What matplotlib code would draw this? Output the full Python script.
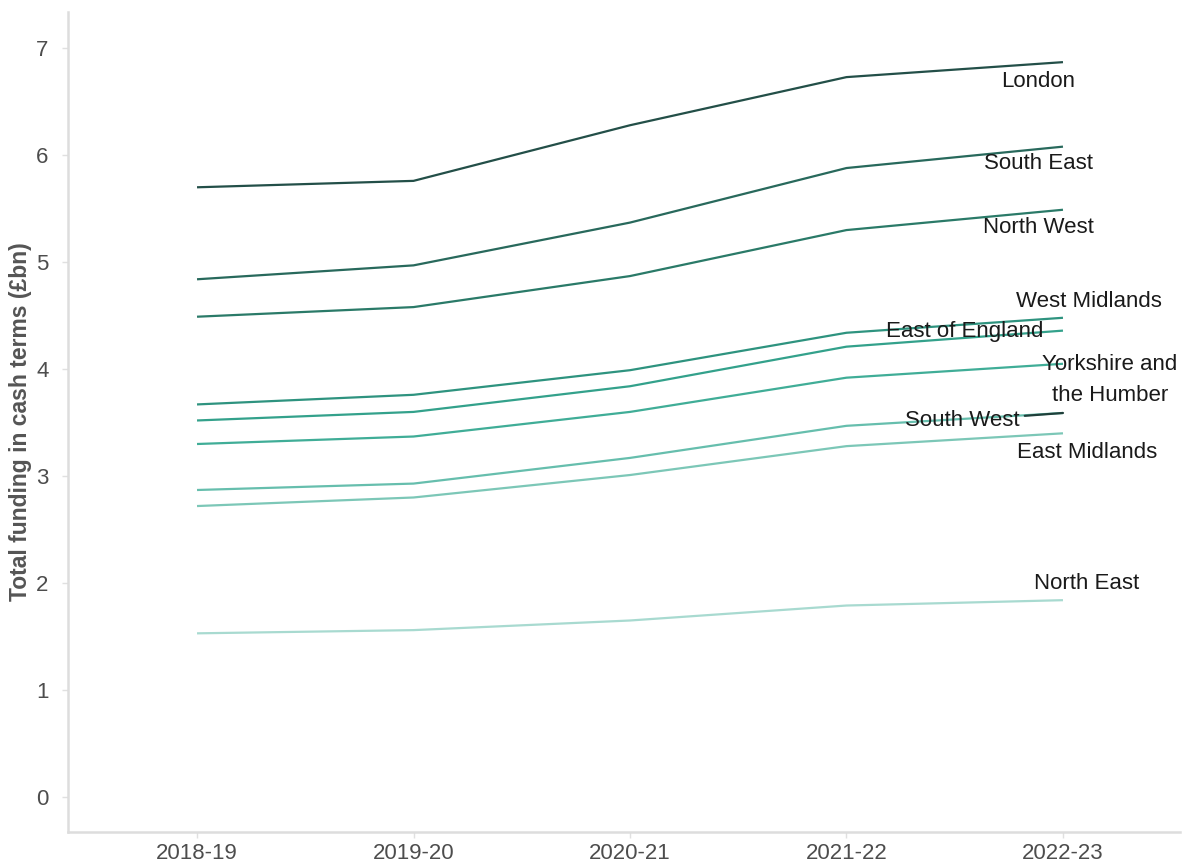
import matplotlib
matplotlib.use('Agg')
import matplotlib.pyplot as plt

plt.rcParams['font.family'] = ['Liberation Sans', 'DejaVu Sans']

years = ['2018-19', '2019-20', '2020-21', '2021-22', '2022-23']

london = [5.70, 5.76, 6.28, 6.73, 6.87]
south_east = [4.84, 4.97, 5.37, 5.88, 6.08]
north_west = [4.49, 4.58, 4.87, 5.30, 5.49]
west_midlands = [3.67, 3.76, 3.99, 4.34, 4.48]
east_of_england = [3.52, 3.60, 3.84, 4.21, 4.36]
yorkshire = [3.30, 3.37, 3.60, 3.92, 4.05]
south_west = [2.87, 2.93, 3.17, 3.47, 3.59]
east_midlands = [2.72, 2.80, 3.01, 3.28, 3.40]
north_east = [1.53, 1.56, 1.65, 1.79, 1.84]

regions = ['London', 'South East', 'North West', 'West Midlands', 'East of England',
           'Yorkshire and\nthe Humber', 'South West', 'East Midlands', 'North East']
series = [london, south_east, north_west, west_midlands, east_of_england,
          yorkshire, south_west, east_midlands, north_east]
colors = ['#234f48', '#28695c', '#2a7a68', '#2e937f', '#33a18b',
          '#40ad97', '#66bead', '#7cc7b7', '#a8dad0']
# label offset from the last point (data units)
offsets = [(-0.115, -0.18), (-0.115, -0.16), (-0.115, -0.17), (0.12, 0.15),
           (-0.453, -0.01), (0.217, -0.15), (-0.467, -0.07), (0.11, -0.18),
           (0.11, 0.16)]

fig = plt.figure(figsize=(11.93, 8.66), dpi=100)
ax = fig.add_axes([0.057, 0.0393, 0.932, 0.947])

x = list(range(len(years)))
for name, y, c, (dx, dy) in zip(regions, series, colors, offsets):
    ax.plot(x, y, color=c, linewidth=1.6, solid_capstyle='butt')
    if name == 'South West':
        ax.annotate(name, xy=(x[-1], y[-1]), xytext=(x[-1] + dx, y[-1] + dy),
                    ha='center', va='center', fontsize=16, color='#1a1a1a',
                    arrowprops=dict(arrowstyle='-', color='#1f3f3a', lw=1.6,
                                    shrinkA=2, shrinkB=0))
    else:
        ax.text(x[-1] + dx, y[-1] + dy, name, ha='center', va='center',
                fontsize=16, color='#1a1a1a', linespacing=1.6)

ax.set_xlim(-0.596, 4.54)
ax.set_ylim(-0.327, 7.34)
ax.set_xticks(x)
ax.set_xticklabels(years)
ax.set_yticks(range(0, 8))

for s in ['top', 'right']:
    ax.spines[s].set_visible(False)
for s in ['left', 'bottom']:
    ax.spines[s].set_color('#dddddd')
    ax.spines[s].set_linewidth(1.8)
ax.tick_params(axis='both', colors='#e0e0e0', length=4, width=1,
               labelsize=16, labelcolor='#4d4d4d')
ax.tick_params(axis='x', pad=4)
ax.tick_params(axis='y', pad=10)

ax.set_ylabel('Total funding in cash terms (£bn)', fontsize=16.5, color='#555555',
              fontweight='bold', labelpad=3)

fig.savefig('out.png', dpi=100)
